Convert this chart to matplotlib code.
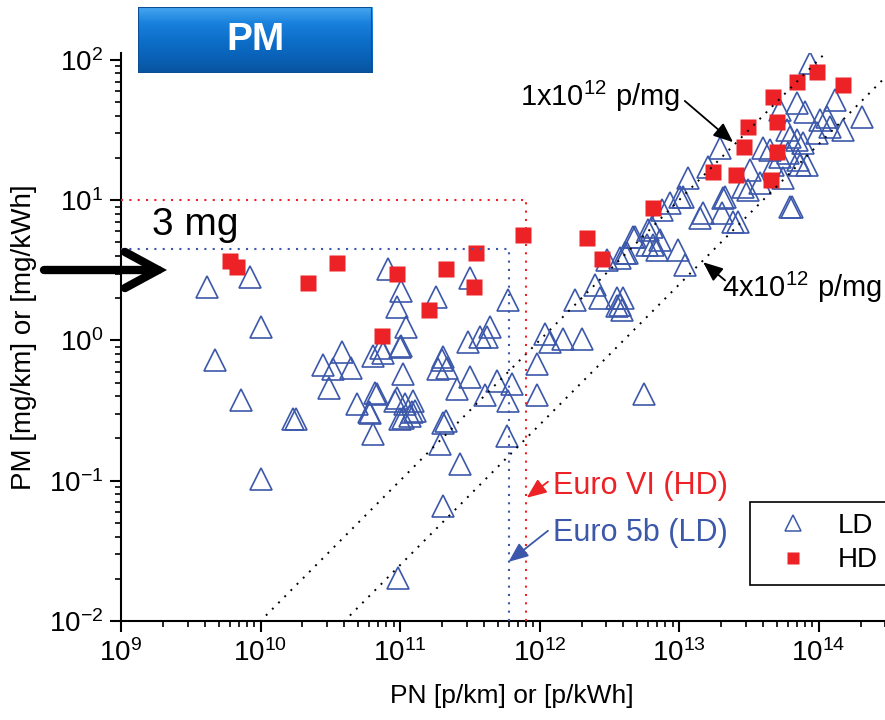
import matplotlib
matplotlib.use('Agg')
import matplotlib.pyplot as plt
import numpy as np
from matplotlib.ticker import LogLocator, NullFormatter
from matplotlib.lines import Line2D
from matplotlib.colors import LinearSegmentedColormap

plt.rcParams['font.family'] = ['Liberation Sans', 'DejaVu Sans']
plt.rcParams['mathtext.fontset'] = 'custom'
plt.rcParams['mathtext.rm'] = 'Liberation Sans'
plt.rcParams['mathtext.it'] = 'Liberation Sans:italic'
plt.rcParams['mathtext.bf'] = 'Liberation Sans:bold'
plt.rcParams['axes.unicode_minus'] = False

# ---------------- data ----------------
ld_pn = [4.13e9, 8.4e9, 1.01e10, 4.72e9, 7.25e9, 1.71e10, 1.80e10, 1.01e10, 2.81e10, 3.84e10,
         3.31e10, 4.45e10, 3.10e10, 4.92e10, 6.10e10, 6.40e10, 6.40e10, 7.55e10, 1.0e11, 6.62e10,
         9.2e10, 1.05e11, 1.09e11, 1.24e11, 1.28e11, 1.0e11, 1.18e11, 2.0e11, 1.87e11, 2.03e11,
         1.94e11, 2.03e11, 9.7e10, 8.2e10, 1.02e11, 9.5e10, 1.10e11, 1.02e11, 7.3e10, 6.84e10,
         6.0e10, 9.5e10, 1.05e11, 1.22e11, 1.81e11, 3.18e11, 2.03e11, 2.17e11, 3.07e11, 3.74e11,
         4.42e11, 4.2e11, 3.18e11, 2.56e11, 4.07e11, 4.96e11, 6.35e11, 5.95e11, 5.95e11, 2.14e11,
         5.85e11, 2.69e11, 9.6e11, 9.6e11, 5.6e12, 1.19e12, 1.09e12, 1.47e12, 2.02e12, 1.80e12,
         2.50e12, 2.72e12, 3.6e12, 3.78e12, 3.9e12, 3.6e12, 3.05e12, 3.78e12, 4.24e12, 4.84e12,
         6.0e12, 6.4e12, 5.9e12, 6.95e12, 7.3e12, 9.84e12, 1.10e13, 8.6e12, 1.42e13, 4.68e12,
         4.1e12, 6.5e12, 7.55e12, 1.02e13, 1.16e13, 1.49e13, 2.03e13, 2.14e13, 2.44e13, 2.65e13,
         2.88e13, 3.13e13, 3.23e13, 6.46e13, 1.61e13, 4.72e13, 7.37e13, 3.97e12, 8.7e13, 1.31e14,
         2.05e14, 1.5e14, 7.0e13, 8.0e13, 5.3e13, 1.03e14, 1.15e14, 1.21e14, 9.75e13, 5.94e13,
         6.25e13, 7.0e13, 7.74e13, 4.49e13, 4.0e13, 5.3e13, 6.04e13, 7.13e13, 8.28e13, 5.57e13,
         1.97e13, 1.07e13, 2.07e13, 3.81e13, 6.25e13]
ld_pm = [2.39, 2.82, 1.24, 0.72, 0.379, 0.277, 0.277, 0.103, 0.663, 0.834,
         0.631, 0.641, 0.461, 0.355, 0.306, 0.217, 0.78, 0.82, 0.891, 0.425,
         0.373, 0.581, 0.355, 0.373, 0.316, 0.277, 0.291, 0.72, 0.631, 0.26,
         0.184, 0.0663, 0.0203, 3.21, 2.24, 1.72, 1.24, 0.92, 0.877, 0.418,
         0.311, 0.392, 0.282, 0.311, 2.03, 2.77, 0.757, 0.641, 0.968, 1.05,
         1.24, 1.05, 0.553, 0.454, 0.411, 0.518, 0.493, 0.373, 1.93, 0.268,
         0.21, 0.132, 0.685, 0.411, 0.418, 0.968, 1.12, 1.03, 1.03, 1.93,
         2.47, 2.0, 2.0, 1.78, 1.64, 1.75, 3.73, 3.86, 4.18, 5.44,
         6.1, 6.42, 4.77, 4.39, 5.18, 4.39, 3.44, 9.52, 7.52, 5.44,
         4.18, 4.77, 8.49, 10.5, 14.4, 8.08, 8.08, 10.5, 6.96, 6.96,
         12.4, 11.8, 16.4, 8.9, 17.2, 17.8, 17.8, 2.0, 95.0, 51.8,
         39.2, 31.6, 49.3, 42.5, 44.0, 37.3, 39.2, 33.2, 30.1, 31.6,
         28.2, 26.8, 25.5, 22.8, 23.5, 20.3, 21.7, 19.3, 17.8, 14.4,
         23.5, 10.5, 10.3, 13.2, 8.9]

hd_pn = [6.04e9, 6.8e9, 2.19e10, 3.53e10, 7.43e10, 9.5e10, 1.61e11, 2.14e11, 3.39e11, 3.51e11,
         7.62e11, 2.19e12, 2.81e12, 6.5e12, 1.75e13, 2.56e13, 4.56e13, 2.92e13, 3.13e13, 5.04e13,
         5.04e13, 4.72e13, 7.0e13, 9.75e13, 1.5e14]
hd_pm = [3.67, 3.32, 2.55, 3.55, 1.07, 2.96, 1.66, 3.21, 2.39, 4.18,
         5.62, 5.35, 3.79, 8.77, 15.8, 15.1, 13.9, 23.9, 33.2, 22.0,
         36.0, 54.4, 69.6, 82.0, 66.0]

ratio_lines = [1e12, 4e12]          # p/mg
ratio_pn = [1e9, 1e15]
euro6_pn, euro6_pm = 8e11, 10.0     # HD limits
euro5_pn, euro5_pm = 6e11, 4.5      # LD limits

blue = '#3c58aa'
red = '#ec2227'

fig = plt.figure(figsize=(8.85, 7.2), dpi=100)
ax = fig.add_axes([121/885, 99/720, 781.5/885, 568/720])
ax.set_xscale('log')
ax.set_yscale('log')
ax.set_xlim(1e9, 4e14)
ax.set_ylim(1e-2, 112)

ax.plot(ld_pn, ld_pm, ls='none', marker='^', ms=16, mfc='none', mec=blue, mew=1.2, zorder=2)
ax.plot(hd_pn, hd_pm, ls='none', marker='s', ms=11.5, mfc=red, mec='none', zorder=2.5)

for r in ratio_lines:
    ax.plot(ratio_pn, [p / r for p in ratio_pn], color='black', lw=1.4, ls=(0, (1, 3.5)), zorder=3)

ax.plot([1e9, euro6_pn], [euro6_pm, euro6_pm], color=red, lw=1.5, ls=(0, (1, 3)), zorder=3)
ax.plot([euro6_pn, euro6_pn], [1e-2, euro6_pm], color=red, lw=1.5, ls=(0, (1, 3)), zorder=3)
ax.plot([1e9, euro5_pn], [euro5_pm, euro5_pm], color=blue, lw=1.5, ls=(0, (1, 3)), zorder=3)
ax.plot([euro5_pn, euro5_pn], [1e-2, euro5_pm], color=blue, lw=1.5, ls=(0, (1, 3)), zorder=3)

# axes styling
for s in ['top', 'right']:
    ax.spines[s].set_visible(False)
for s in ['left', 'bottom']:
    ax.spines[s].set_linewidth(1.5)
ax.xaxis.set_major_locator(LogLocator(base=10, numticks=20))
ax.xaxis.set_minor_locator(LogLocator(base=10, subs=np.arange(2, 10), numticks=50))
ax.yaxis.set_major_locator(LogLocator(base=10, numticks=20))
ax.yaxis.set_minor_locator(LogLocator(base=10, subs=np.arange(2, 10), numticks=50))
ax.xaxis.set_minor_formatter(NullFormatter())
ax.yaxis.set_minor_formatter(NullFormatter())
ax.tick_params(which='major', direction='out', length=8, width=1.5, labelsize=20, pad=5)
ax.tick_params(which='minor', direction='out', length=4, width=1.2)
ax.set_xlabel('PN [p/km] or [p/kWh]', fontsize=19, labelpad=12)
ax.set_ylabel('PM [mg/km] or [mg/kWh]', fontsize=20, labelpad=8)

# annotations
ax.text(7.2e11, 54.5, '1x10$^{12}$ p/mg', fontsize=21, ha='left', va='center')
ax.annotate('', xy=(2.44e13, 25.9), xytext=(1.1e13, 51.0),
            arrowprops=dict(arrowstyle='-|>,head_length=0.6,head_width=0.25', color='black', lw=1.3,
                            shrinkA=0, shrinkB=0, mutation_scale=20))
ax.text(2.03e13, 2.39, '4x10$^{12}$ p/mg', fontsize=21, ha='left', va='center')
ax.annotate('', xy=(1.49e13, 3.61), xytext=(2.14e13, 2.68),
            arrowprops=dict(arrowstyle='-|>,head_length=0.6,head_width=0.25', color='black', lw=1.3,
                            shrinkA=0, shrinkB=0, mutation_scale=20))
ax.text(1.25e12, 0.092, 'Euro VI (HD)', fontsize=22, color=red, ha='left', va='center')
ax.annotate('', xy=(8.1e11, 0.0756), xytext=(1.15e12, 0.0984),
            arrowprops=dict(arrowstyle='-|>,head_length=0.6,head_width=0.25', color=red, lw=1.3,
                            shrinkA=0, shrinkB=0, mutation_scale=20))
ax.text(1.25e12, 0.0425, 'Euro 5b (LD)', fontsize=22, color=blue, ha='left', va='center')
ax.annotate('', xy=(6.0e11, 0.0264), xytext=(1.15e12, 0.044),
            arrowprops=dict(arrowstyle='-|>,head_length=0.6,head_width=0.25', color=blue, lw=1.3,
                            shrinkA=0, shrinkB=0, mutation_scale=20))
ax.text(1.67e9, 6.63, '3 mg', fontsize=28, ha='left', va='center')

# big arrow
ax.annotate('', xy=(167, 450), xytext=(44, 450), xycoords='figure pixels', textcoords='figure pixels',
            annotation_clip=False,
            arrowprops=dict(arrowstyle='->,head_length=1.2,head_width=0.65', color='black', lw=6,
                            shrinkA=0, shrinkB=0, mutation_scale=20, joinstyle='miter'),
            zorder=5)

# legend
handles = [Line2D([], [], ls='none', marker='^', ms=11, mfc='none', mec=blue, mew=1.1),
           Line2D([], [], ls='none', marker='s', ms=9, mfc=red, mec='none')]
leg = ax.legend(handles, ['LD', 'HD'], loc='upper left', bbox_to_anchor=(750/885, 218/720),
                bbox_transform=fig.transFigure, frameon=True, fancybox=False, fontsize=20,
                borderpad=0.4, labelspacing=0.3, handletextpad=0.45, handlelength=2.3,
                borderaxespad=0, framealpha=1, edgecolor='black')
leg.get_frame().set_linewidth(1.2)

# title button
bax = fig.add_axes([138/885, (720-73)/720, 234/885, 66/720])
bax.set_axis_off()
cmap = LinearSegmentedColormap.from_list('btn', ['#46a6f0', '#1880dc', '#0d6fca', '#0a62b8', '#08549e'])
grad = np.linspace(0, 1, 200).reshape(-1, 1)
bax.imshow(grad, aspect='auto', cmap=cmap, extent=[0, 1, 0, 1], origin='upper')
bax.set_xlim(0, 1)
bax.set_ylim(0, 1)
bax.plot([0, 1, 1, 0, 0], [0, 0, 1, 1, 0], color='#0a4f96', lw=1.5)
bax.text(0.5, 0.5, 'PM', color='white', fontsize=28, fontweight='bold', ha='center', va='center')

fig.savefig('out.png', dpi=100)
